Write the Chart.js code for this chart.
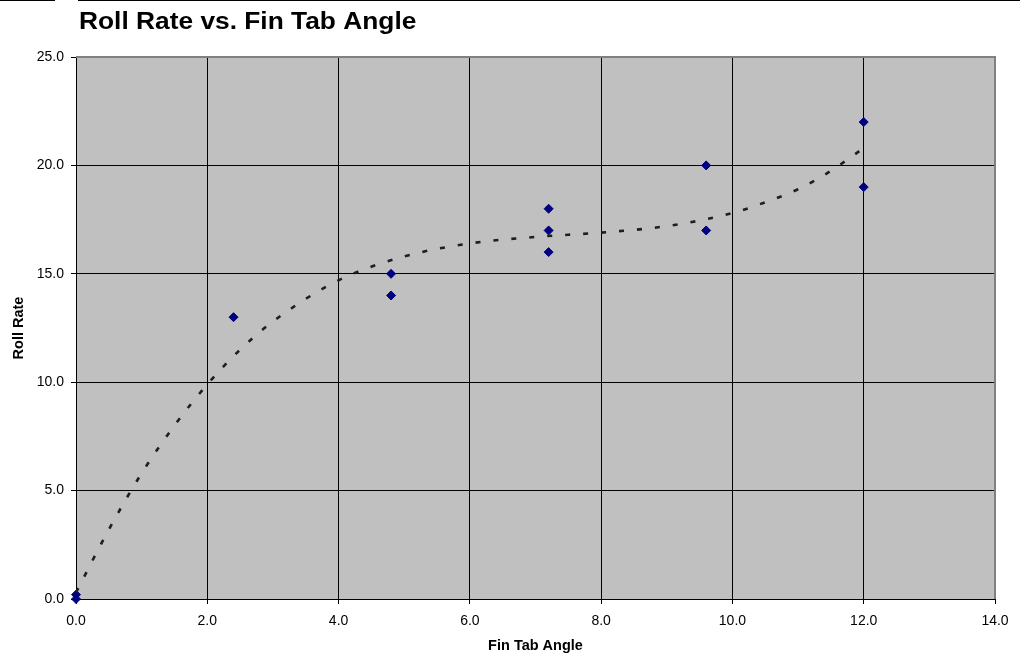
<!DOCTYPE html>
<html>
<head>
<meta charset="utf-8">
<title>Roll Rate vs. Fin Tab Angle</title>
<script src="https://cdn.jsdelivr.net/npm/chart.js@4.4.1/dist/chart.umd.min.js"></script>
<style>
  html, body { margin: 0; padding: 0; background: #ffffff; }
  #wrap { width: 1020px; height: 655px; }
</style>
</head>
<body>
<div id="wrap"><canvas id="chart" width="1020" height="655"></canvas></div>
<script>
// Measured flight data: fin tab angle vs. roll rate
const angles    = [0, 0, 2.4, 4.8, 4.8, 7.2, 7.2, 7.2, 9.6, 9.6, 12, 12];
const rollRates = [0, 0.2, 13, 15, 14, 18, 17, 16, 20, 17, 22, 19];

// Polynomial trend line, sampled along the angle range
const trendAngles = [0, 0.5, 1, 1.5, 2, 2.5, 3, 4, 5, 6, 7, 8, 9, 10, 10.5, 11, 11.5, 12];
const trendRates  = [0.3, 3.2, 5.8, 8.0, 9.9, 11.5, 12.8, 14.7, 15.8, 16.4, 16.7, 16.9, 17.2, 17.8, 18.3, 18.9, 19.75, 20.8];

// Axis ranges and tick spacing
const xAxisMin = 0, xAxisMax = 14, xAxisStep = 2;
const yAxisMin = 0, yAxisMax = 25, yAxisStep = 5;

const chartTitle = 'Roll Rate vs. Fin Tab Angle';
const xAxisTitle = 'Fin Tab Angle';
const yAxisTitle = 'Roll Rate';

const FONT = '"Liberation Sans", Arial, sans-serif';

const toPoints = (xs, ys) => xs.map((x, i) => ({ x: x, y: ys[i] }));

// Grey plot background, grey frame on top/right, title and rule at the top
const decorations = {
  id: 'decorations',
  beforeDraw(chart) {
    const { ctx, chartArea: a } = chart;
    ctx.save();
    ctx.fillStyle = '#c0c0c0';
    ctx.fillRect(a.left, a.top, a.right - a.left, a.bottom - a.top);
    ctx.restore();
  },
  afterDraw(chart) {
    const { ctx, chartArea: a } = chart;
    ctx.save();
    // frame on top and right sides
    ctx.strokeStyle = '#808080';
    ctx.lineWidth = 2;
    ctx.beginPath();
    ctx.moveTo(a.left, a.top);
    ctx.lineTo(a.right, a.top);
    ctx.lineTo(a.right, a.bottom);
    ctx.stroke();
    // rule along the top edge
    ctx.strokeStyle = '#000000';
    ctx.lineWidth = 1;
    ctx.beginPath();
    ctx.moveTo(0, 0.5); ctx.lineTo(55, 0.5);
    ctx.moveTo(78, 0.5); ctx.lineTo(1020, 0.5);
    ctx.stroke();
    // chart title, set slightly wide
    ctx.fillStyle = '#000000';
    ctx.font = 'bold 23.5px ' + FONT;
    ctx.textAlign = 'left';
    ctx.textBaseline = 'alphabetic';
    ctx.translate(79, 28.5);
    ctx.scale(1.12, 1);
    ctx.fillText(chartTitle, 0, 0);
    ctx.restore();
  }
};

new Chart(document.getElementById('chart'), {
  type: 'scatter',
  data: {
    datasets: [
      {
        label: 'Trend',
        data: toPoints(trendAngles, trendRates),
        showLine: true,
        pointRadius: 0,
        borderColor: '#1e1e1e',
        borderWidth: 2.6,
        borderDash: [5, 13],
        borderCapStyle: 'butt',
        cubicInterpolationMode: 'monotone',
        fill: false
      },
      {
        label: 'Roll Rate',
        data: toPoints(angles, rollRates),
        showLine: false,
        pointStyle: 'rectRot',
        pointRadius: 4.5,
        backgroundColor: '#000080',
        borderColor: '#000080',
        borderWidth: 1,
        clip: false
      }
    ]
  },
  options: {
    responsive: false,
    animation: false,
    devicePixelRatio: 1,
    layout: { padding: { left: 0, right: 25, top: 57, bottom: 0 } },
    plugins: {
      legend: { display: false },
      tooltip: { enabled: false },
      title: { display: false }
    },
    scales: {
      x: {
        type: 'linear',
        min: xAxisMin,
        max: xAxisMax,
        afterFit(scale) { scale.height = 56; },
        ticks: {
          stepSize: xAxisStep,
          color: '#000000',
          padding: 9,
          maxRotation: 0,
          font: { family: FONT, size: 14 },
          callback: v => Number(v).toFixed(1)
        },
        grid: {
          color: '#000000',
          lineWidth: 1,
          tickLength: 5,
          tickColor: '#000000',
          drawTicks: true
        },
        border: { display: true, color: '#000000', width: 1 },
        title: {
          display: true,
          text: xAxisTitle,
          color: '#000000',
          font: { family: FONT, size: 14.5, weight: 'bold' },
          padding: { top: 0, bottom: 0 }
        }
      },
      y: {
        type: 'linear',
        min: yAxisMin,
        max: yAxisMax,
        afterFit(scale) { scale.width = 76; },
        ticks: {
          stepSize: yAxisStep,
          color: '#000000',
          padding: 7,
          font: { family: FONT, size: 14 },
          callback: v => Number(v).toFixed(1)
        },
        grid: {
          color: '#000000',
          lineWidth: 1,
          tickLength: 5,
          tickColor: '#000000',
          drawTicks: true
        },
        border: { display: true, color: '#000000', width: 1 },
        title: {
          display: true,
          text: yAxisTitle,
          color: '#000000',
          font: { family: FONT, size: 14.5, weight: 'bold' },
          padding: { top: 10, bottom: 0 }
        }
      }
    }
  },
  plugins: [decorations]
});
</script>
</body>
</html>
